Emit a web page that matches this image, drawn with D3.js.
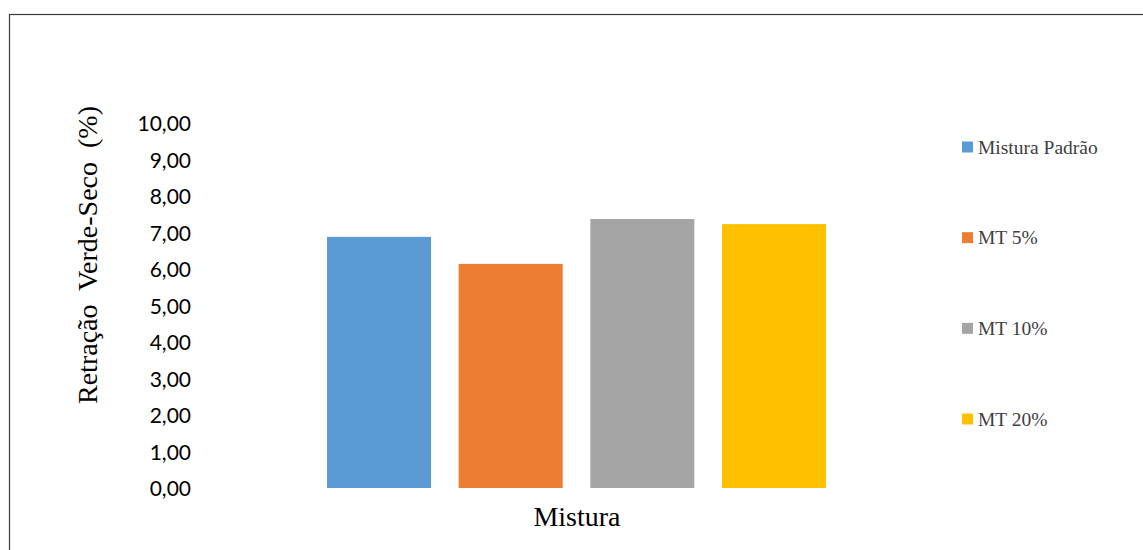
<!DOCTYPE html>
<html>
<head>
<meta charset="utf-8">
<script src="https://cdn.jsdelivr.net/npm/d3@7"></script>
<style>
  html, body { margin: 0; padding: 0; background: #fff; }
  svg { display: block; }
</style>
</head>
<body>
<svg id="chart" width="1143" height="550"></svg>
<script>
// Retração verde-seco por mistura
const series = ["Mistura Padrão", "MT 5%", "MT 10%", "MT 20%"];
const values = [6.88, 6.14, 7.37, 7.23];
const colors = ["#5B9BD5", "#ED7D31", "#A5A5A5", "#FFC000"];
const yTicks = [0, 1, 2, 3, 4, 5, 6, 7, 8, 9, 10];
const yTitle = "Retração  Verde-Seco  (%)";
const xTitle = "Mistura";

const svg = d3.select("#chart");

// outer chart frame
svg.append("rect")
  .attr("x", 9.5).attr("y", 14.5)
  .attr("width", 1300).attr("height", 700)
  .attr("fill", "none").attr("stroke", "#3a3a3a").attr("stroke-width", 1.2);

const y = d3.scaleLinear().domain([0, 10]).range([488, 123]);
const x = d3.scaleBand().domain(series).range([327, 826]).paddingInner(0.21).paddingOuter(0);

// y axis: labels only
const yAxis = d3.axisLeft(y)
  .tickValues(yTicks)
  .tickSize(0)
  .tickPadding(0)
  .tickFormat(d => d3.format(".2f")(d).replace(".", ","));

svg.append("g")
  .attr("transform", "translate(191,0)")
  .call(yAxis)
  .call(g => g.select(".domain").remove())
  .call(g => g.selectAll("text")
    .attr("font-family", "Lato, 'Open Sans', sans-serif")
    .attr("font-size", 21)
    .attr("fill", "#000")
    .attr("dy", "0.36em"));

// bars
svg.append("g").selectAll("rect")
  .data(series)
  .join("rect")
  .attr("x", d => x(d))
  .attr("width", x.bandwidth())
  .attr("y", (d, i) => y(values[i]))
  .attr("height", (d, i) => y(0) - y(values[i]))
  .attr("fill", (d, i) => colors[i]);

// axis titles
svg.append("text")
  .attr("transform", "translate(97,255) rotate(-90)")
  .attr("text-anchor", "middle")
  .attr("font-family", "'Liberation Serif', 'Times New Roman', serif")
  .attr("font-size", 28)
  .attr("fill", "#000")
  .style("white-space", "pre")
  .text(yTitle);

svg.append("text")
  .attr("x", 577).attr("y", 526)
  .attr("text-anchor", "middle")
  .attr("font-family", "'Liberation Serif', 'Times New Roman', serif")
  .attr("font-size", 28)
  .attr("fill", "#000")
  .text(xTitle);

// legend
const legendY = d3.scalePoint().domain(series).range([147, 419]);
const legend = svg.append("g").selectAll("g")
  .data(series)
  .join("g")
  .attr("transform", d => `translate(962,${legendY(d)})`);

legend.append("rect")
  .attr("x", 0).attr("y", -5.5)
  .attr("width", 11).attr("height", 11)
  .attr("fill", (d, i) => colors[i]);

legend.append("text")
  .attr("x", 16).attr("y", 0)
  .attr("dy", "0.35em")
  .attr("font-family", "'Liberation Serif', 'Times New Roman', serif")
  .attr("font-size", 19.5)
  .attr("fill", "#404040")
  .text(d => d);
</script>
</body>
</html>
